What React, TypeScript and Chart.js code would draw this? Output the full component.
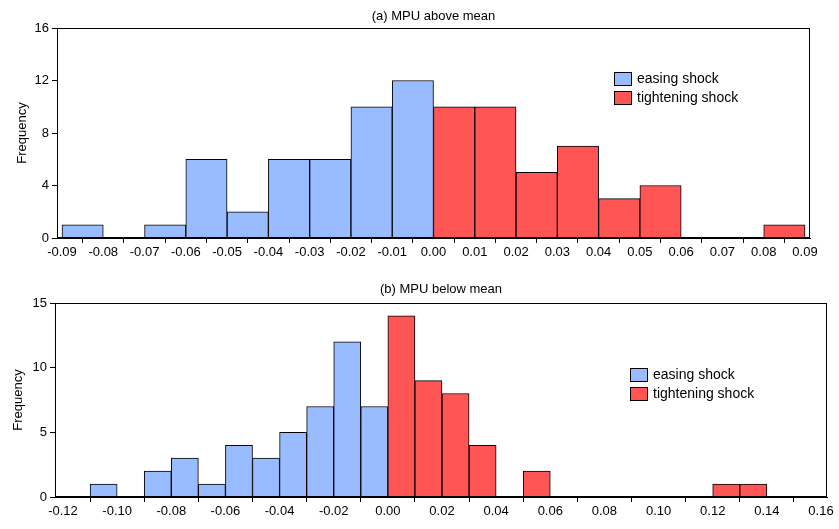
import React, { useEffect, useRef } from "react";
import { Chart, registerables } from "chart.js";
Chart.register(...registerables);

const topBinStarts = [-0.09,-0.08,-0.07,-0.06,-0.05,-0.04,-0.03,-0.02,-0.01,0,0.01,0.02,0.03,0.04,0.05,0.06,0.07,0.08];
const topCounts = [1,0,1,6,2,6,6,10,12,10,10,5,7,3,4,0,0,1];
const topXTicks = [-0.09,-0.08,-0.07,-0.06,-0.05,-0.04,-0.03,-0.02,-0.01,0,0.01,0.02,0.03,0.04,0.05,0.06,0.07,0.08,0.09];
const botBinStarts = [-0.11,-0.10,-0.09,-0.08,-0.07,-0.06,-0.05,-0.04,-0.03,-0.02,-0.01,0,0.01,0.02,0.03,0.04,0.05,0.06,0.07,0.08,0.09,0.10,0.11,0.12,0.13];
const botCounts = [1,0,2,3,1,4,3,5,7,12,7,14,9,8,4,0,2,0,0,0,0,0,0,1,1];
const botXTicks = [-0.12,-0.10,-0.08,-0.06,-0.04,-0.02,0,0.02,0.04,0.06,0.08,0.10,0.12,0.14,0.16];
const BLUE = "#99BBFF", RED = "#FF5555";
const FONT = "'Liberation Sans', Arial, sans-serif";

function make(canvas: HTMLCanvasElement, cfg: any) {
  const data = cfg.starts
    .map((s: number, i: number) => ({ x: s + 0.005, y: cfg.counts[i] }))
    .filter((d: any) => d.y > 0);
  const deco = {
    id: "deco",
    afterDraw(c: any) {
      const ctx = c.ctx, a = c.chartArea;
      ctx.save();
      ctx.strokeStyle = "#000"; ctx.lineWidth = 1;
      ctx.strokeRect(a.left + 0.5, a.top + 0.5, a.right - a.left - 1, a.bottom - a.top - 1);
      ctx.fillStyle = "#000"; ctx.font = `13px ${FONT}`;
      ctx.textAlign = "center"; ctx.textBaseline = "middle";
      ctx.fillText(cfg.title, (a.left + a.right) / 2, cfg.titleY);
      ctx.save(); ctx.translate(cfg.yTitleX, (a.top + a.bottom) / 2); ctx.rotate(-Math.PI / 2);
      ctx.fillText("Frequency", 0, 0); ctx.restore();
      ctx.textAlign = "left"; ctx.font = `14px ${FONT}`;
      [["easing shock", BLUE], ["tightening shock", RED]].forEach(([t, col], i) => {
        const y = cfg.legY + i * 19;
        ctx.fillStyle = col; ctx.fillRect(cfg.legX, y - 7, 18, 14);
        ctx.strokeRect(cfg.legX + 0.5, y - 6.5, 17, 13);
        ctx.fillStyle = "#000"; ctx.fillText(t as string, cfg.legX + 23, y);
      });
      ctx.restore();
    },
  };
  return new Chart(canvas, {
    type: "bar",
    data: { datasets: [{ data, backgroundColor: data.map((d: any) => (d.x < 0 ? BLUE : RED)), borderColor: "#000", borderWidth: 1, barPercentage: 1, categoryPercentage: 1 }] },
    options: {
      animation: false, responsive: false,
      layout: { padding: { top: cfg.padTop, right: cfg.padRight, left: 0, bottom: 0 } },
      plugins: { legend: { display: false }, tooltip: { enabled: false } },
      scales: {
        x: {
          type: "linear", offset: false, min: cfg.xmin, max: cfg.xmax,
          afterFit: (s: any) => { s.height = cfg.xH; },
          afterBuildTicks: (s: any) => { s.ticks = cfg.xticks.map((v: number) => ({ value: v })); },
          ticks: { color: "#000", font: { family: FONT, size: 13 }, maxRotation: 0, autoSkip: false, padding: 2, callback: (v: any) => Number(v).toFixed(2) },
          grid: { drawOnChartArea: false, drawTicks: true, tickLength: 5, color: "#000" },
          border: { color: "#000" },
        },
        y: {
          min: 0, max: cfg.ymax,
          afterFit: (s: any) => { s.width = cfg.yW; },
          ticks: { stepSize: cfg.ystep, color: "#000", font: { family: FONT, size: 13 }, padding: 3 },
          grid: { drawOnChartArea: false, drawTicks: true, tickLength: 5, color: "#000" },
          border: { color: "#000" },
        },
      },
    },
    plugins: [deco],
  } as any);
}

export default function App() {
  const r1 = useRef<HTMLCanvasElement>(null);
  const r2 = useRef<HTMLCanvasElement>(null);
  useEffect(() => {
    const c1 = make(r1.current!, { starts: topBinStarts, counts: topCounts, xticks: topXTicks, title: "(a) MPU above mean", titleY: 16, yTitleX: 22, legX: 614, legY: 79, padTop: 28, padRight: 29, xH: 27, yW: 57, xmin: -0.09121, xmax: 0.09121, ymax: 16, ystep: 4 });
    const c2 = make(r2.current!, { starts: botBinStarts, counts: botCounts, xticks: botXTicks, title: "(b) MPU below mean", titleY: 24, yTitleX: 18, legX: 630, legY: 110, padTop: 38, padRight: 12, xH: 32, yW: 55, xmin: -0.12296, xmax: 0.16222, ymax: 15, ystep: 5 });
    return () => { c1.destroy(); c2.destroy(); };
  }, []);
  return (
    <div style={{ position: "absolute", left: 0, top: 0, width: 839, height: 529, background: "#fff" }}>
      <canvas ref={r1} width={839} height={265} style={{ position: "absolute", left: 0, top: 0 }} />
      <canvas ref={r2} width={839} height={264} style={{ position: "absolute", left: 0, top: 265 }} />
    </div>
  );
}
